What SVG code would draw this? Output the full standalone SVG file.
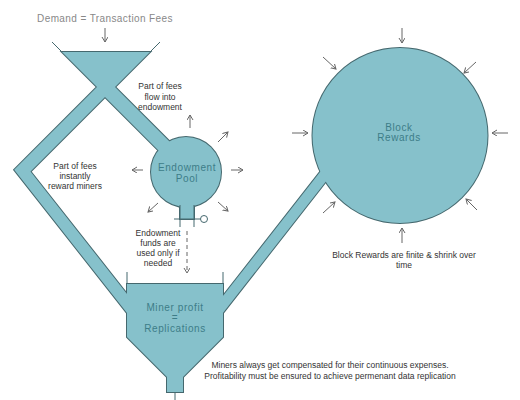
<svg xmlns="http://www.w3.org/2000/svg" width="520" height="400" viewBox="0 0 520 400">
<defs>
<marker id="ah" markerWidth="8" markerHeight="8" refX="5" refY="3" orient="auto" markerUnits="userSpaceOnUse">
<path d="M0,0 L5,3 L0,6" fill="none" stroke="#666" stroke-width="1"/>
</marker>
<style>
.edge{fill:none;stroke:#45686e;stroke-width:2}
.line{fill:none;stroke:#45686e;stroke-width:1}
.fillonly{fill:#86c1cb;stroke:none}
.arr{fill:none;stroke:#666;stroke-width:1;marker-end:url(#ah)}
.lbl{font-family:"Liberation Sans",Arial,sans-serif;font-size:8.5px;fill:#333;text-anchor:middle}
.shp{font-family:"Liberation Sans",Arial,sans-serif;font-size:10px;fill:#3d7d88;text-anchor:middle;letter-spacing:0.6px}
.ttl{font-family:"Liberation Sans",Arial,sans-serif;font-size:10px;fill:#888;text-anchor:middle;letter-spacing:0.4px}
</style>
</defs>
<rect width="520" height="400" fill="#fff"/>

<!-- outlines layer -->
<g id="outlines">
<polygon class="edge" points="62,52 150,52 115,87 170,142 162,154 105,97 30.5,171.5 140,310.5 140,329.5 14.2,169.8 97,87"/>
<polygon class="edge" points="210,312.6 330,159.3 340,163.5 210,329.6"/>
<circle class="edge" cx="186" cy="172" r="35"/>
<rect class="edge" x="180" y="195" width="14" height="24"/>
<circle class="edge" cx="400" cy="135.5" r="87.5"/>
<polygon class="edge" points="127,284 223,284 223,337 183,377 183,392 167,392 167,377 127,337"/>
</g>

<!-- fills layer -->
<g id="fills">
<polygon class="fillonly" points="62,52 150,52 115,87 170,142 162,154 105,97 30.5,171.5 140,310.5 140,329.5 14.2,169.8 97,87"/>
<polygon class="fillonly" points="210,312.6 330,159.3 340,163.5 210,329.6"/>
<circle class="fillonly" cx="186" cy="172" r="35"/>
<rect class="fillonly" x="180" y="195" width="14" height="24"/>
<circle class="fillonly" cx="400" cy="135.5" r="87.5"/>
<polygon class="fillonly" points="127,284 223,284 223,337 183,377 183,392 167,392 167,377 127,337"/>
</g>

<g id="fee-funnel">
<line class="line" x1="52" y1="42" x2="62" y2="52"/>
<line class="line" x1="160" y1="42" x2="150" y2="52"/>
<text class="ttl" x="105" y="22">Demand = Transaction Fees</text>
</g>

<g id="endowment-pool">
<line class="line" x1="180" y1="205" x2="180" y2="227"/>
<line class="line" x1="194" y1="205" x2="194" y2="227"/>
<line class="line" x1="174" y1="219" x2="200.5" y2="219"/>
<circle cx="204" cy="219" r="3.5" fill="#fff" stroke="#45686e" stroke-width="1"/>
<text class="shp" x="187" y="171">Endowment</text>
<text class="shp" x="187" y="182">Pool</text>
</g>

<g id="block-rewards">
<text class="shp" x="399" y="130.5">Block</text>
<text class="shp" x="399" y="141">Rewards</text>
</g>

<g id="miner-profit">
<line class="line" x1="127" y1="272" x2="127" y2="284"/>
<line class="line" x1="223" y1="272" x2="223" y2="284"/>
<line class="line" x1="175" y1="392" x2="175" y2="400"/>
<text class="shp" x="175" y="310.5">Miner profit</text>
<text class="shp" x="175" y="320.5">=</text>
<text class="shp" x="175" y="331.5">Replications</text>
</g>

<g id="connectors">
<line class="arr" x1="105" y1="28" x2="105" y2="42"/>
<line class="arr" x1="190" y1="128" x2="190" y2="115"/>
<line class="arr" x1="218" y1="142" x2="228" y2="132"/>
<line class="arr" x1="143" y1="170" x2="132" y2="170"/>
<line class="arr" x1="231" y1="170" x2="243" y2="170"/>
<line class="arr" x1="158" y1="203" x2="148" y2="212"/>
<line class="arr" x1="218" y1="202" x2="228" y2="211"/>
<line class="arr" x1="402" y1="28" x2="402" y2="43"/>
<line class="arr" x1="323" y1="57" x2="336" y2="69"/>
<line class="arr" x1="476" y1="62" x2="464" y2="73"/>
<line class="arr" x1="292" y1="133" x2="308" y2="133"/>
<line class="arr" x1="508" y1="133" x2="492" y2="133"/>
<line class="arr" x1="323" y1="213" x2="335" y2="202"/>
<line class="arr" x1="477" y1="210" x2="466" y2="199"/>
<line class="arr" x1="402" y1="243" x2="402" y2="228"/>
<line class="arr" x1="187" y1="231" x2="187" y2="273" stroke-dasharray="4 3"/>
</g>

<g id="labels">
<text class="lbl" x="160" y="89">Part of fees</text>
<text class="lbl" x="160" y="99.5">flow into</text>
<text class="lbl" x="160" y="110">endowment</text>
<text class="lbl" x="75" y="169">Part of fees</text>
<text class="lbl" x="75" y="179">instantly</text>
<text class="lbl" x="75" y="189">reward miners</text>
<text class="lbl" x="158" y="236">Endowment</text>
<text class="lbl" x="158" y="246">funds are</text>
<text class="lbl" x="158" y="256">used only if</text>
<text class="lbl" x="158" y="265.5">needed</text>
<text class="lbl" x="404" y="258">Block Rewards are finite &amp; shrink over</text>
<text class="lbl" x="404" y="268">time</text>
<text class="lbl" x="330" y="368">Miners always get compensated for their continuous expenses.</text>
<text class="lbl" x="330" y="379">Profitability must be ensured to achieve permenant data replication</text>
</g>
</svg>
